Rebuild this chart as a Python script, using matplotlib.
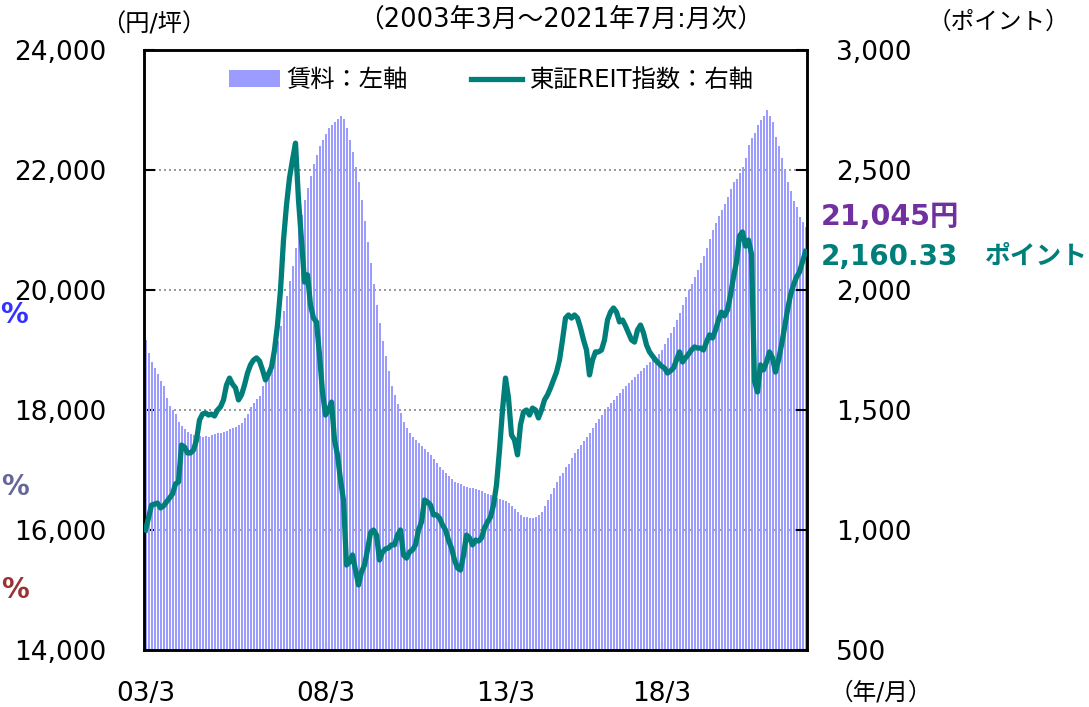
import numpy as np
import matplotlib
matplotlib.use("Agg")
import matplotlib.pyplot as plt
from matplotlib.lines import Line2D
from matplotlib.patches import Patch

plt.rcParams['font.family'] = ['DejaVu Sans', 'Noto Sans CJK JP']

# monthly, 2003/3 .. 2021/7
rent = [
    19170, 18950, 18800, 18700, 18600, 18480, 18400, 18200, 18070, 18000,
    17930, 17800, 17740, 17690, 17640, 17600, 17580, 17570, 17560, 17550,
    17560, 17550, 17580, 17600, 17610, 17620, 17630, 17650, 17680, 17700,
    17720, 17750, 17790, 17860, 17930, 18050, 18120, 18180, 18230, 18400,
    18470, 18630, 18800, 18950, 19150, 19400, 19650, 19900, 20150, 20400,
    20700, 21000, 21250, 21500, 21700, 21900, 22100, 22250, 22400, 22500,
    22600, 22700, 22750, 22800, 22850, 22900, 22850, 22700, 22500, 22300,
    22050, 21800, 21500, 21150, 20800, 20450, 20100, 19750, 19450, 19150,
    18900, 18650, 18400, 18250, 18100, 17950, 17800, 17700, 17620, 17550,
    17500, 17450, 17400, 17350, 17300, 17250, 17180, 17120, 17050, 17000,
    16950, 16900, 16850, 16800, 16780, 16760, 16740, 16720, 16700, 16700,
    16680, 16670, 16650, 16620, 16600, 16580, 16560, 16540, 16520, 16500,
    16480, 16450, 16400, 16350, 16300, 16250, 16220, 16210, 16200, 16200,
    16220, 16250, 16300, 16400, 16500, 16600, 16700, 16800, 16900, 16950,
    17050, 17100, 17200, 17280, 17350, 17420, 17480, 17550, 17620, 17700,
    17780, 17850, 17920, 17990, 18050, 18110, 18170, 18230, 18290, 18350,
    18400, 18450, 18500, 18550, 18600, 18650, 18700, 18750, 18800, 18840,
    18880, 18940, 19000, 19100, 19200, 19280, 19380, 19500, 19620, 19750,
    19880, 20000, 20100, 20220, 20330, 20450, 20570, 20700, 20850, 21000,
    21120, 21230, 21330, 21430, 21550, 21680, 21800, 21850, 21950, 22050,
    22200, 22420, 22530, 22620, 22750, 22830, 22900, 23000, 22900, 22800,
    22550, 22400, 22200, 22000, 21800, 21650, 21480, 21380, 21220, 21130,
    21045,
]

reit = [
    1000, 1050, 1104, 1108, 1112, 1092, 1100, 1117, 1133, 1150,
    1192, 1200, 1354, 1346, 1321, 1321, 1333, 1375, 1458, 1483,
    1488, 1479, 1483, 1475, 1500, 1513, 1542, 1604, 1633, 1608,
    1592, 1542, 1563, 1604, 1654, 1688, 1708, 1717, 1704, 1667,
    1625, 1650, 1679, 1750, 1854, 2000, 2208, 2354, 2467, 2542,
    2612, 2375, 2208, 2033, 2063, 1938, 1883, 1867, 1729, 1575,
    1479, 1500, 1533, 1375, 1313, 1208, 1125, 854, 867, 896,
    833, 771, 825, 854, 917, 988, 1000, 979, 875, 908,
    921, 925, 938, 938, 979, 1000, 896, 883, 908, 917,
    938, 1000, 1033, 1125, 1117, 1104, 1063, 1063, 1050, 1021,
    1000, 958, 925, 875, 842, 833, 896, 979, 967, 938,
    958, 954, 967, 1008, 1033, 1054, 1104, 1188, 1333, 1500,
    1633, 1550, 1396, 1375, 1313, 1438, 1492, 1500, 1479, 1508,
    1500, 1467, 1500, 1542, 1563, 1592, 1625, 1658, 1708, 1792,
    1883, 1896, 1883, 1896, 1883, 1842, 1792, 1750, 1646, 1708,
    1742, 1742, 1750, 1792, 1875, 1908, 1925, 1908, 1867, 1875,
    1850, 1821, 1792, 1783, 1833, 1854, 1821, 1771, 1742, 1725,
    1708, 1696, 1683, 1675, 1654, 1663, 1675, 1708, 1742, 1700,
    1717, 1733, 1750, 1763, 1758, 1758, 1750, 1783, 1813, 1800,
    1833, 1875, 1908, 1892, 1917, 1979, 2054, 2117, 2225, 2242,
    2183, 2208, 2150, 1620, 1575, 1688, 1667, 1700, 1742, 1717,
    1658, 1708, 1771, 1842, 1917, 1979, 2021, 2054, 2075, 2117,
    2160.33,
]

tick_pos = [0, 60, 120, 172]
tick_labels = ["03/3", "08/3", "13/3", "18/3"]
left_ticks = [14000, 16000, 18000, 20000, 22000, 24000]
right_ticks = [500, 1000, 1500, 2000, 2500, 3000]

bar_col = "#9C9CFF"
line_col = "#007F7A"
fs = 19

fig = plt.figure(figsize=(10.89, 7.07), dpi=100)
n = len(rent)
# 3 px per month so that every bar gets the same 2 px + 1 px gap
ax = fig.add_axes([144 / 1089, 1 - 650 / 707, 3 * n / 1089, 600 / 707])
idx = np.arange(n)
ax.bar(idx - 1 / 6, rent, width=2 / 3, align="edge", color=bar_col,
       linewidth=0, antialiased=False, zorder=2)
ax.set_ylim(14000, 24000)
ax.set_xlim(-0.5, n - 0.5)
ax.set_yticks(left_ticks)
ax.set_yticklabels([f"{v:,}" for v in left_ticks])
ax.set_xticks(tick_pos)
ax.set_xticklabels(tick_labels)
ax.tick_params(axis="y", direction="in", length=8, width=1.5, pad=27, labelsize=fs)
ax.tick_params(axis="x", direction="in", length=6, width=1.5, pad=22, labelsize=fs)
ax.grid(axis="y", linestyle=(0, (1.2, 1.8)), color="#888888", linewidth=1.2, zorder=1)
for sp in ax.spines.values():
    sp.set_linewidth(1.8)
    sp.set_zorder(5)

ax2 = ax.twinx()
ax2.plot(idx, reit, color=line_col, linewidth=3.8, solid_joinstyle="round", zorder=3)
ax2.set_ylim(500, 3000)
ax2.set_yticks(right_ticks)
ax2.set_yticklabels([f"{v:,}" for v in right_ticks])
ax2.tick_params(axis="y", direction="in", length=8, width=1.5, pad=21, labelsize=fs)
for sp in ax2.spines.values():
    sp.set_linewidth(1.8)

handles = [Patch(facecolor=bar_col, edgecolor="none"),
           Line2D([0], [0], color=line_col, linewidth=3.8)]
fig.legend(handles, ["賃料：左軸", "東証REIT指数：右軸"], loc="center",
           bbox_to_anchor=(491 / 1089, 1 - 80 / 707), ncol=2, frameon=False,
           fontsize=17.5, handlelength=2.1, handleheight=0.65, columnspacing=2.6,
           handletextpad=0.3)

fig.text(561 / 1089, 1 - 20 / 707, "（2003年3月～2021年7月:月次）", ha="center",
         va="center", fontsize=18.5)
fig.text(154 / 1089, 1 - 25 / 707, "（円/坪）", ha="center", va="center", fontsize=17.5)
fig.text(998 / 1089, 1 - 22 / 707, "（ポイント）", ha="center", va="center", fontsize=17)
fig.text(881 / 1089, 1 - 693 / 707, "（年/月）", ha="center", va="center", fontsize=17)

fig.text(821 / 1089, 1 - 217 / 707, "21,045円", ha="left", va="center",
         fontsize=20.5, fontweight="bold", color="#7030A0")
fig.text(821 / 1089, 1 - 257 / 707, "2,160.33", ha="left", va="center",
         fontsize=20, fontweight="bold", color=line_col)
fig.text(985 / 1089, 1 - 257 / 707, "ポイント", ha="left", va="center",
         fontsize=18.5, fontweight="bold", color=line_col)

fig.text(28 / 1089, 1 - 315 / 707, "%", ha="right", va="center",
         fontsize=20, fontweight="bold", color="#3333FF")
fig.text(1 / 1089, 1 - 487 / 707, "%", ha="left", va="center",
         fontsize=20, fontweight="bold", color="#666699")
fig.text(1 / 1089, 1 - 590 / 707, "%", ha="left", va="center",
         fontsize=20, fontweight="bold", color="#993333")

fig.savefig("out.png", dpi=100)
